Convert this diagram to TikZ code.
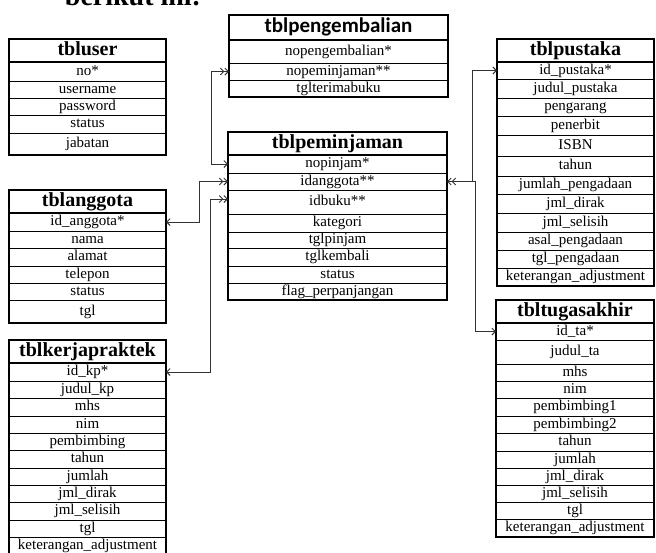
\documentclass[tikz,border=0pt]{standalone}
\usepackage{fontspec}
\setmainfont{Liberation Serif}
\newfontfamily\hdrsansfont{Carlito}
\usetikzlibrary{arrows.meta}

% One table of the schema: header cell plus one cell per field.
% #1 header style, #2 name, #3 left x, #4 right x, #5/#6 header top/bottom,
% #7 title, #8 list of top/bottom/field
\newcommand{\erdtable}[8][hdr]{%
  \node[#1, minimum width={(#4-#3)*1pt}, minimum height={(#6-#5)*1pt}]
    (#2-0) at ({(#3+#4)/2},{(#5+#6)/2}) {#7};
  \foreach \t/\b/\lbl [count=\i] in {#8} {
    \node[cell, minimum width={(#4-#3)*1pt}, minimum height={(\b-\t)*1pt}]
      (#2-\i) at ({(#3+#4)/2},{(\t+\b)/2}) {\lbl};
    \xdef\lastrow{\i}
  }
  \draw[frame] (#2-0.north west) rectangle (#2-\lastrow.south east);
}

\tikzset{
  cell/.style={draw, line width=0.8pt, inner sep=0pt, outer sep=0pt,
    text height=10pt, text depth=3pt,
    font=\fontsize{15}{17}\selectfont},
  hdr/.style={draw, line width=1.3pt, inner sep=0pt, outer sep=0pt,
    text height=14pt, text depth=4pt,
    font=\bfseries\fontsize{20}{24}\selectfont},
  hdrsans/.style={hdr, font=\hdrsansfont\bfseries\fontsize{21}{24}\selectfont},
  frame/.style={line width=1.8pt},
  link/.style={draw=black!80, line width=0.9pt},
  onetip/.tip={Straight Barb[length=3.5pt,width=7pt]},
  manytip/.tip={Straight Barb[length=3.5pt,width=7pt]Straight Barb[length=3.5pt,width=7pt]}
}

\begin{document}
\begin{tikzpicture}[x=1pt,y=-1pt]
\useasboundingbox[fill=white] (0,0) rectangle (656,552);

% line of running text above the schema
\node[anchor=base, inner sep=0pt, font=\bfseries\fontsize{28}{32}\selectfont]
  (intro) at (133,5) {berikut ini:};

\erdtable{user}{9}{166}{39}{62}{tbluser}{
  62/81/no*, 81/98/username, 98/115/password, 115/133/status, 133/155/jabatan}

\erdtable[hdrsans]{pengem}{229}{448}{15}{40}{tblpengembalian}{
  40/63/nopengembalian*, 63/80/nopeminjaman**, 80/97/tglterimabuku}

\erdtable{pust}{497}{654}{39}{62}{tblpustaka}{
  62/79/id\_pustaka*, 79/98/judul\_pustaka, 98/116/pengarang, 116/135/penerbit,
  135/156/ISBN, 156/176/tahun, 176/194/jumlah\_pengadaan, 194/213/jml\_dirak,
  213/232/jml\_selisih, 232/250/asal\_pengadaan, 250/268/tgl\_pengadaan,
  268/286/keterangan\_adjustment}

\erdtable{pemin}{228}{447}{132}{155}{tblpeminjaman}{
  155/173/nopinjam*, 173/190/idanggota**, 190/214/idbuku**, 214/232/kategori,
  232/248/tglpinjam, 248/266/tglkembali, 266/283/status, 283/300/flag\_perpanjangan}

\erdtable{angg}{9}{166}{190}{213}{tblanggota}{
  213/231/id\_anggota*, 231/248/nama, 248/266/alamat, 266/283/telepon,
  283/300/status, 300/323/tgl}

\erdtable{kp}{9}{166}{340}{363}{tblkerjapraktek}{
  363/381/id\_kp*, 381/398/judul\_kp, 398/416/mhs, 416/433/nim,
  433/450/pembimbing, 450/468/tahun, 468/485/jumlah, 485/502/jml\_dirak,
  502/520/jml\_selisih, 520/537/tgl, 537/554/keterangan\_adjustment}

\erdtable{tugas}{496}{654}{300}{323}{tbltugasakhir}{
  323/340/id\_ta*, 340/364/judul\_ta, 364/381/mhs, 381/398/nim,
  398/416/pembimbing1, 416/433/pembimbing2, 433/451/tahun, 451/468/jumlah,
  468/485/jml\_dirak, 485/502/jml\_selisih, 502/519/tgl,
  519/537/keterangan\_adjustment}

% relations
\draw[link, manytip-onetip] (pengem-2.west) -- ++(-17.5,0) |- (pemin-1.west);
\draw[link, onetip-manytip] (angg-1.east) -- ++(33,0) |- (pemin-2.west);
\draw[link, onetip-manytip] (kp-1.east) -- ++(44.7,0) |- ([yshift=3pt]pemin-3.west);
\draw[link, manytip-onetip] (pemin-2.east) -- ++(25,0) |- (pust-1.west);
\draw[link, -onetip] (pemin-2.east) -- ++(28.4,0) |- (tugas-1.west);
\end{tikzpicture}
\end{document}
